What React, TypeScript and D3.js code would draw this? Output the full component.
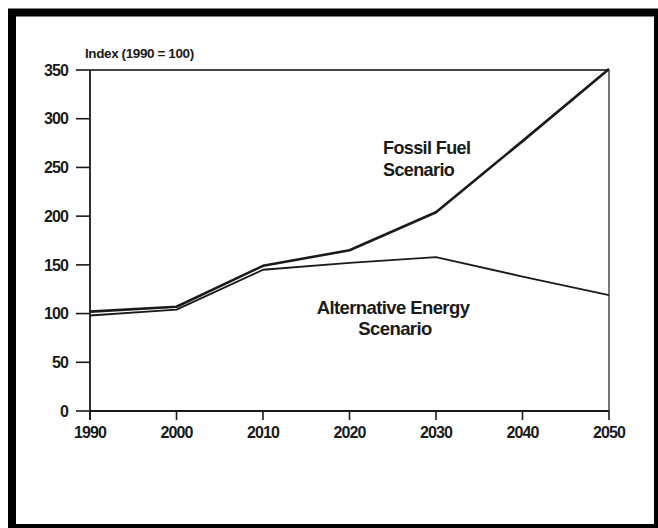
import React from 'react';
import * as d3 from 'd3';

const YEARS = [1990, 2000, 2010, 2020, 2030, 2040, 2050];
const FOSSIL = [102, 107, 149, 165, 204, 277, 351];
const ALTERNATIVE = [98, 104, 145, 152, 158, 138, 119];
const Y_TICKS = [0, 50, 100, 150, 200, 250, 300, 350];

const W = 658;
const H = 528;
const FONT = '"Liberation Sans", Arial, Helvetica, sans-serif';
const INK = '#1a1a1a';

const App: React.FC = () => {
  const x = d3.scaleLinear().domain([1990, 2050]).range([90, 609]);
  const y = d3.scaleLinear().domain([0, 350]).range([411, 70]);

  const line = d3.line<number>()
    .x((_, i) => x(YEARS[i]))
    .y(d => y(d));

  return (
    <svg
      width={W}
      height={H}
      style={{ position: 'absolute', left: 0, top: 0, background: '#fff' }}
      fontFamily={FONT}
    >
      {/* scanned page frame */}
      <rect x={12} y={12.5} width={646} height={515.5} fill="#fff" stroke="#000" strokeWidth={8} />

      {/* plot box */}
      <line x1={x(2050)} x2={x(2050)} y1={y(350)} y2={y(0)} stroke="#555" strokeWidth={1.6} />
      <line x1={x(1990)} x2={x(2050)} y1={y(350)} y2={y(350)} stroke="#444" strokeWidth={1.8} />
      <line x1={x(1990)} x2={x(1990)} y1={y(350)} y2={y(0) + 9} stroke={INK} strokeWidth={1.8} />
      <line x1={x(1990)} x2={x(2050)} y1={y(0)} y2={y(0)} stroke={INK} strokeWidth={1.8} />

      {/* y axis */}
      {Y_TICKS.map(t => (
        <g key={t}>
          <line x1={76} x2={x(1990)} y1={y(t)} y2={y(t)} stroke={INK} strokeWidth={1.6} />
          <text x={68} y={y(t)} dy="0.36em" textAnchor="end" fontSize={16} fontWeight="bold" fill={INK} letterSpacing={-0.9}>
            {t}
          </text>
        </g>
      ))}
      <text x={85} y={58} fontSize={13.5} fontWeight="bold" fill={INK} letterSpacing={-0.4}>
        Index (1990 = 100)
      </text>

      {/* x axis */}
      {YEARS.map(yr => (
        <g key={yr}>
          <line x1={x(yr)} x2={x(yr)} y1={y(0)} y2={y(0) + 9} stroke={INK} strokeWidth={1.6} />
          <text x={x(yr)} y={438} textAnchor="middle" fontSize={16} fontWeight="bold" fill={INK} letterSpacing={-0.9}>
            {yr}
          </text>
        </g>
      ))}

      {/* series */}
      <path d={line(ALTERNATIVE) || undefined} fill="none" stroke={INK} strokeWidth={1.8} strokeLinejoin="round" />
      <path d={line(FOSSIL) || undefined} fill="none" stroke={INK} strokeWidth={2.6} strokeLinejoin="round" />

      {/* labels */}
      <text fontSize={18} fontWeight="bold" fill={INK} letterSpacing={-0.6}>
        <tspan x={383} y={154}>Fossil Fuel</tspan>
        <tspan x={383} y={176}>Scenario</tspan>
      </text>
      <text fontSize={18.5} fontWeight="bold" fill={INK} textAnchor="middle" letterSpacing={-0.6}>
        <tspan x={393} y={314}>Alternative Energy</tspan>
        <tspan x={395} y={335}>Scenario</tspan>
      </text>
    </svg>
  );
};

export default App;
